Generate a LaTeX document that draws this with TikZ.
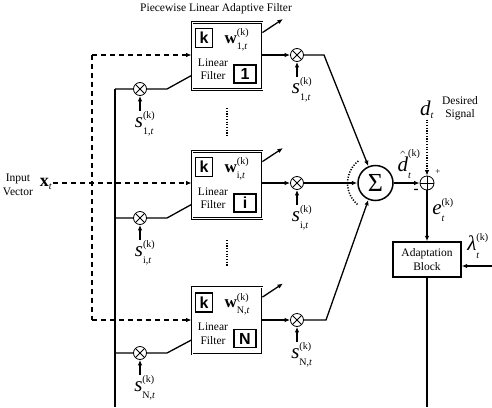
\documentclass[tikz,border=0pt]{standalone}
\usepackage{fontspec}
\setmainfont{Liberation Serif}
\newfontfamily\tagfont{Liberation Sans}
\usetikzlibrary{arrows.meta}
% script-size text used for superscripts and subscripts
\newcommand\scr[1]{\mbox{\fontsize{10}{11}\selectfont #1}}
\newcommand\up[1]{\raisebox{1pt}{\scr{#1}}}
\newcommand\dn[1]{\raisebox{-2pt}{\scr{#1}}}
% symbol with superscript and subscript, e.g. s^{(k)}_{1,t}
\newcommand\sig[3]{{\fontsize{21}{22}\selectfont$#1^{\up{#2}}_{\dn{#3}}$}}
\newcommand\wsig[3]{{\fontsize{17}{18}\selectfont$#1^{\up{#2}}_{\dn{#3}}$}}
\begin{document}
\begin{tikzpicture}[x=1pt, y=-1pt, line width=1.3pt,
  >={Latex[length=5.5pt,width=4.5pt]},
  filterbox/.style={draw, double, double distance=1pt, line width=0.8pt,
    minimum width=70pt, minimum height=67pt, inner sep=0},
  tagbox/.style={draw, line width=1.5pt, inner sep=0,
    font=\tagfont\bfseries\fontsize{16}{16}\selectfont},
  ktag/.style={tagbox, minimum width=17pt, minimum height=19pt},
  numtag/.style={tagbox, minimum width=22pt, minimum height=18pt},
  txt/.style={font=\fontsize{11.5}{13.5}\selectfont, align=center, inner sep=0},
  lab/.style={inner sep=0},
  mult/.style={circle, draw, line width=0.8pt, minimum size=13pt, inner sep=0,
    path picture={\draw[line width=0.8pt]
      (path picture bounding box.north west) -- (path picture bounding box.south east)
      (path picture bounding box.north east) -- (path picture bounding box.south west);}},
  adder/.style={circle, draw, line width=0.8pt, minimum size=14pt, inner sep=0,
    path picture={\draw[line width=0.8pt]
      (path picture bounding box.north) -- (path picture bounding box.south)
      (path picture bounding box.west) -- (path picture bounding box.east);}},
  feed/.style={dashed, dash pattern=on 5pt off 4pt, line width=1.3pt},
  dotline/.style={line width=1.5pt, dash pattern=on 1.2pt off 1.5pt}]
\useasboundingbox (0,0) rectangle (492,407);

% title
\node[txt] (title) at (216,9) {Piecewise Linear Adaptive Filter};

% input
\node[txt] (inp) at (18,185) {Input\\Vector};
\node[lab] (xt) at (46,184) {{\fontsize{18}{19}\selectfont$\textbf{x}_{\scr{\textit{t}}}$}};

% left bus carrying the region indicators back from the adaptation block
\coordinate (busend) at (115,407);

% the three linear filters with their multipliers
\foreach \r/\Y/\C/\B in {1/55/56/89, i/183/185/218, N/320/320.5/353}{
  \node[filterbox] (f\r) at (227,\C) {};
  \node[ktag] (k\r) at (204,\C-18) {k};
  \node[lab, anchor=west] (w\r) at (224,\C-16) {\wsig{\textbf{w}}{(k)}{\r,\textit{t}}};
  \node[txt] (lf\r) at (213,\C+13) {Linear\\Filter};
  \node[numtag] (n\r) at (245,\C+18) {\r};
  \coordinate (wo\r) at (283,\C-37);
  \draw[->] ([yshift=-10.5pt]f\r.north east) -- (wo\r);
  % output side multiplier
  \node[mult] (mr\r) at (297,\Y) {};
  \draw[->] (f\r.east |- mr\r) -- (mr\r);
  \node[lab, anchor=north] (sr\r) at (302,\Y+22) {\sig{\textit{s}}{(k)}{\r,\textit{t}}};
  \draw[->] (mr\r |- sr\r.north) -- (mr\r.south);
  % input side multiplier
  \coordinate (bus\r) at (115,\B);
  \node[mult] (ml\r) at (140,\B) {};
  \coordinate (kn\r) at (167,\B);
  \draw (bus\r) -- (ml\r) -- (kn\r) -- ([yshift=14.5pt]f\r.south west);
  \node[lab, anchor=north] (sl\r) at (145,\B+22) {\sig{\textit{s}}{(k)}{\r,\textit{t}}};
  \draw[->] (ml\r |- sl\r.north) -- (ml\r.south);
}
\draw (bus1) -- (busend);

% input vector distribution (dashed)
\coordinate (dtop) at (92,55);
\coordinate (dbot) at (92,320);
\draw[feed,->] (xt.east |- fi.west) ++(0,-2) -- (fi.west |- 0,183);
\draw[feed] (dtop) -- (dbot);
\draw[feed,->] (dtop) -- (f1.west |- dtop);
\draw[feed,->] (dbot) -- (fN.west |- dbot);

% filters skipped between rows
\draw[dotline] (227,108) -- (227,136);
\draw[dotline] (227,240) -- (227,266);

% summation
\node[circle, draw, line width=1.5pt, minimum size=35pt, inner sep=0,
  font=\fontsize{26}{26}\selectfont] (sum) at (375.5,183) {Σ};
\coordinate (bend1) at (324,55);
\coordinate (bendN) at (326,320);
\draw[->] (mr1) -- (bend1) -- (sum.113);
\draw[->] (mri) -- (sum);
\draw[->] (mrN) -- (bendN) -- (sum.247);
\draw[dotline] (sum.center) ++(130:28) arc[start angle=130, end angle=235, radius=28];

% error computation
\node[adder] (add) at (427,183) {};
\draw[->] (sum) -- (add);
\node[lab] (dh) at (409,164) {\sig{\hat{\textit{d}}}{(k)}{\textit{t}}};
\node[lab] (dt) at (427,110) {{\fontsize{21}{22}\selectfont$\textit{d}_{\scr{\textit{t}}}$}};
\node[txt] (ds) at (460,108) {Desired\\Signal};
\draw[dotline,->] (add |- dt.south) -- (add);
\node[lab, font=\fontsize{9}{9}\selectfont] (plus) at (438,172) {+};
\node[lab, font=\bfseries\fontsize{15}{15}\selectfont] (minus) at (416,191) {-};
\node[lab] (e) at (443,210) {\sig{\textit{e}}{(k)}{\textit{t}}};

% adaptation block
\node[draw, line width=1.4pt, minimum width=68pt, minimum height=35pt, txt] (ab) at (427,259.5) {Adaptation\\Block};
\draw[->] (add) -- (ab);
\node[lab] (lam) at (478,246) {\sig{\textit{λ}}{(k)}{\textit{t}}};
\coordinate (lin) at (492,266);
\draw[->] (lin) -- (ab.east |- lin);
\coordinate (fb) at (427,407);
\draw (ab) -- (fb);
\end{tikzpicture}
\end{document}
